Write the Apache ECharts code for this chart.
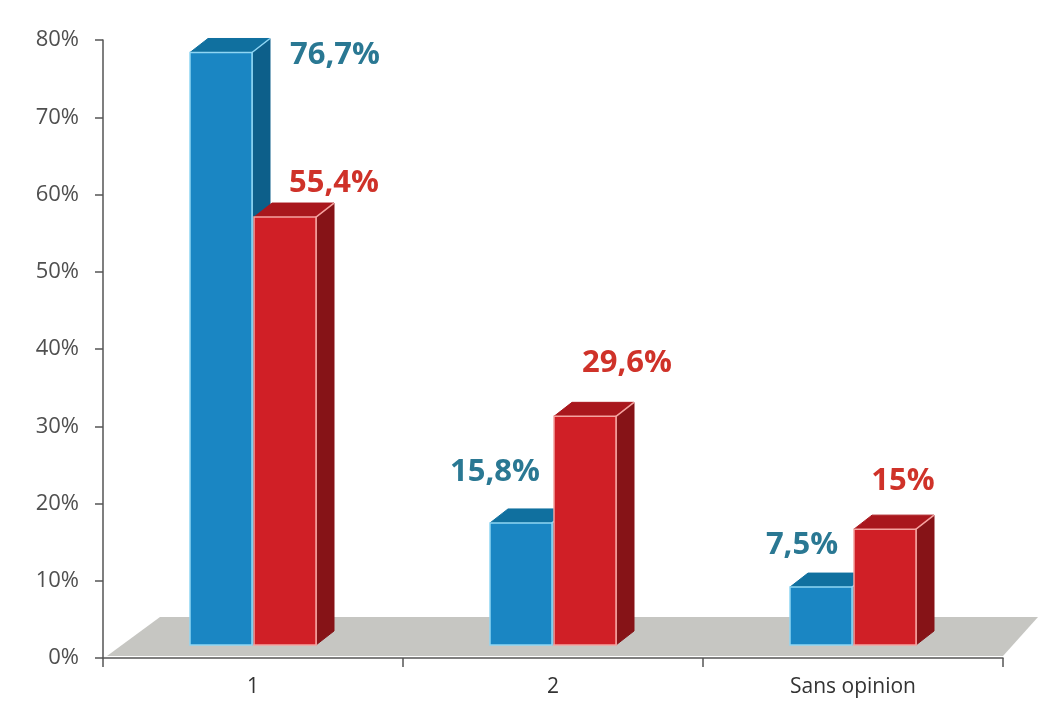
<!DOCTYPE html>
<html>
<head>
<meta charset="utf-8">
<script src="https://cdn.jsdelivr.net/npm/echarts@6/dist/echarts.min.js"></script>
<style>
  html, body { margin: 0; padding: 0; background: #ffffff; }
  #chart { width: 1043px; height: 711px; }
</style>
</head>
<body>
<div id="chart"></div>
<script>
// Categories and percentages
const categories = ['1', '2', 'Sans opinion'];
const blueValues = [76.7, 15.8, 7.5];
const redValues = [55.4, 29.6, 15];
const yMin = 0;
const yMax = 80;
const yStep = 10;

// 3D look of the bars
const DEPTH_X = 18;
const DEPTH_Y = -14;
const LIFT = 13;          // bars stand on the middle of the floor
const BAR_W = 62;
const FONT = '"Open Sans", "Noto Sans", sans-serif';

// Per-bar label placement relative to the front-top-left corner of the bar
const blueLabelPos = [[145, 3], [5, -51], [12, -42]];
const redLabelPos = [[80, -34], [73, -53], [49, -48]];

const palettes = {
  blue: { front: '#1a86c3', top: '#10709f', side: '#0d5f8a', edge: '#8fd6f4', text: '#2a7893' },
  red:  { front: '#d01f26', top: '#a9171d', side: '#861317', edge: '#f5a3a0', text: '#cf3229' }
};

function fmt(v) {
  return String(v).replace('.', ',') + '%';
}

function makeBarRenderer(pal, slot, labelPos) {
  return function (params, api) {
    const idx = api.value(0);
    const val = api.value(1);
    const base = api.coord([idx, 0]);
    const topPt = api.coord([idx, val]);
    const cx = base[0];
    const x = slot === 0 ? cx - BAR_W - 1 : cx + 1;
    const yb = base[1] - LIFT;
    const yt = topPt[1] - LIFT;
    const w = BAR_W;
    const lp = labelPos[params.dataIndex];
    return {
      type: 'group',
      children: [
        {
          type: 'polygon',
          shape: { points: [[x + w, yt], [x + w + DEPTH_X, yt + DEPTH_Y], [x + w + DEPTH_X, yb + DEPTH_Y], [x + w, yb]] },
          style: { fill: pal.side, stroke: pal.side, lineWidth: 1 }
        },
        {
          type: 'polygon',
          shape: { points: [[x, yt], [x + DEPTH_X, yt + DEPTH_Y], [x + w + DEPTH_X, yt + DEPTH_Y], [x + w, yt]] },
          style: { fill: pal.top, stroke: pal.top, lineWidth: 1 }
        },
        {
          type: 'polyline',
          shape: { points: [[x + w, yb], [x + w, yt], [x + w + DEPTH_X, yt + DEPTH_Y]] },
          style: { fill: null, stroke: pal.edge, lineWidth: 1.5 }
        },
        {
          type: 'rect',
          shape: { x: x, y: yt, width: w, height: yb - yt },
          style: { fill: pal.front, stroke: pal.edge, lineWidth: 1.5 }
        },
        {
          type: 'text',
          x: x + lp[0],
          y: yt + lp[1],
          style: {
            text: fmt(val),
            fill: pal.text,
            font: 'bold 31px ' + FONT,
            align: 'center',
            verticalAlign: 'middle'
          }
        }
      ]
    };
  };
}

function renderFloor(params) {
  const cs = params.coordSys;
  const front = cs.y + cs.height - 2;
  const back = front - 39;
  const left = cs.x;
  const right = cs.x + cs.width;
  return {
    type: 'polygon',
    shape: { points: [[left + 4, front], [left + 57, back], [right + 35, back], [right, front]] },
    style: { fill: '#c6c6c2' }
  };
}

const chart = echarts.init(document.getElementById('chart'));
chart.setOption({
  backgroundColor: '#ffffff',
  animation: false,
  grid: { left: 103, right: 40, top: 40, bottom: 53, containLabel: false },
  xAxis: {
    type: 'category',
    data: categories,
    boundaryGap: true,
    axisLine: { show: true, lineStyle: { color: '#555555', width: 1.5 } },
    axisTick: { show: true, length: 9, lineStyle: { color: '#555555', width: 1.5 } },
    axisLabel: { fontSize: 21, color: '#333333', fontFamily: FONT, margin: 19 },
    splitLine: { show: false },
    z: 10
  },
  yAxis: {
    type: 'value',
    min: yMin,
    max: yMax,
    interval: yStep,
    axisLine: { show: true, lineStyle: { color: '#555555', width: 1.5 } },
    axisTick: { show: true, length: 8, lineStyle: { color: '#555555', width: 1.5 } },
    axisLabel: { formatter: '{value}%', fontSize: 22, color: '#4f4f4f', fontFamily: FONT, margin: 24 },
    splitLine: { show: false },
    z: 10
  },
  series: [
    {
      type: 'custom',
      name: 'floor',
      silent: true,
      z: 1,
      renderItem: renderFloor,
      data: [[0, 0]]
    },
    {
      type: 'custom',
      name: 'bleu',
      z: 2,
      renderItem: makeBarRenderer(palettes.blue, 0, blueLabelPos),
      data: categories.map((c, i) => [i, blueValues[i]])
    },
    {
      type: 'custom',
      name: 'rouge',
      z: 3,
      renderItem: makeBarRenderer(palettes.red, 1, redLabelPos),
      data: categories.map((c, i) => [i, redValues[i]])
    }
  ]
});
</script>
</body>
</html>
